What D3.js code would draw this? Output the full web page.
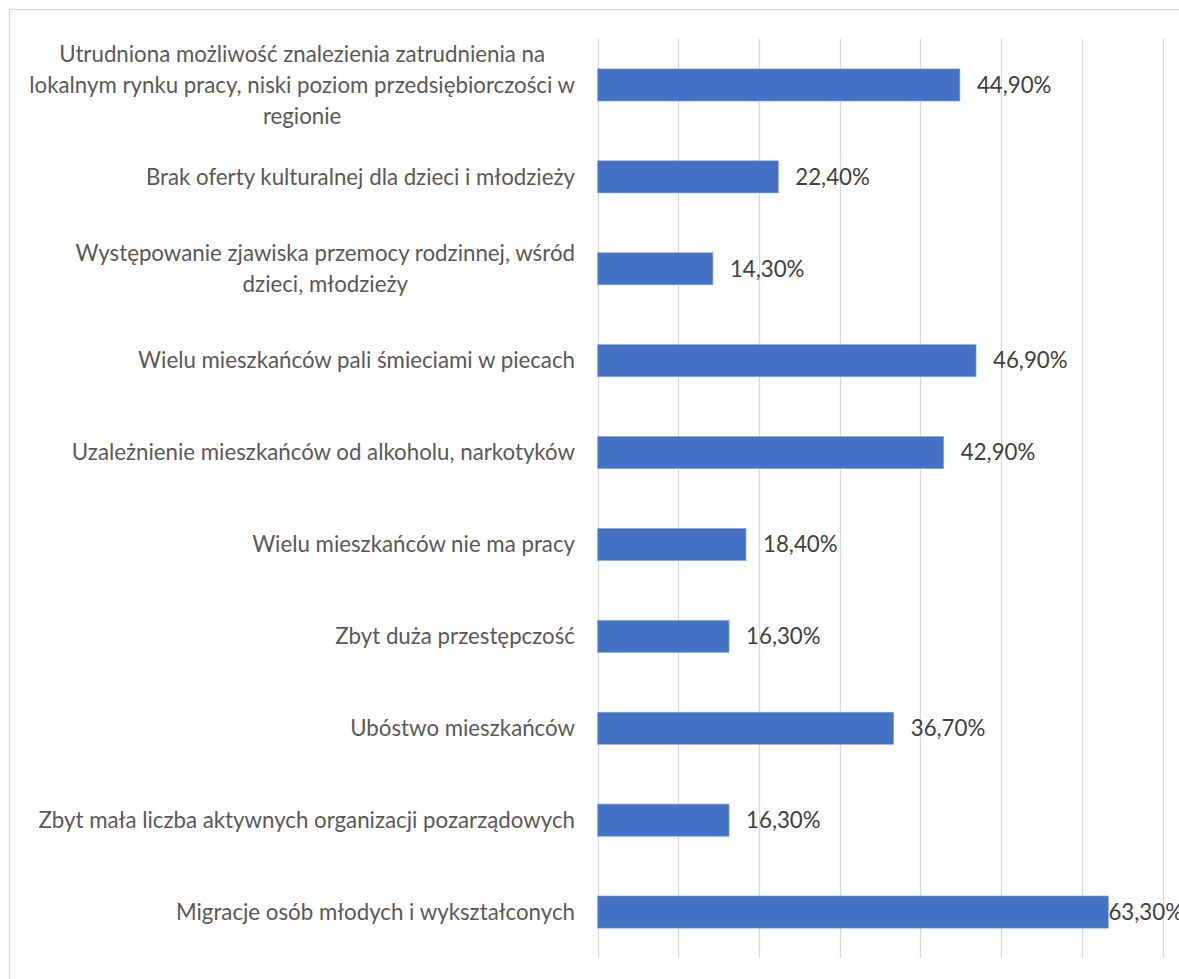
<!DOCTYPE html>
<html><head><meta charset="utf-8">
<script src="https://cdn.jsdelivr.net/npm/d3@7"></script>
<style>html,body{margin:0;padding:0;background:#fff;overflow:hidden}</style>
</head><body>
<svg id="c" width="1179" height="979"></svg>
<script>
const categories = [
  "Utrudniona możliwość znalezienia zatrudnienia na lokalnym rynku pracy, niski poziom przedsiębiorczości w regionie",
  "Brak oferty kulturalnej dla dzieci i młodzieży",
  "Występowanie zjawiska przemocy rodzinnej, wśród dzieci, młodzieży",
  "Wielu mieszkańców pali śmieciami w piecach",
  "Uzależnienie mieszkańców od alkoholu, narkotyków",
  "Wielu mieszkańców nie ma pracy",
  "Zbyt duża przestępczość",
  "Ubóstwo mieszkańców",
  "Zbyt mała liczba aktywnych organizacji pozarządowych",
  "Migracje osób młodych i wykształconych"
];
const values = [44.9, 22.4, 14.3, 46.9, 42.9, 18.4, 16.3, 36.7, 16.3, 63.3];
const xTicks = [0, 10, 20, 30, 40, 50, 60, 70];

const svg = d3.select("#c");
const fontFamily = "Lato, 'Open Sans', sans-serif";

// border of chart area (extends beyond viewport right and bottom)
svg.append("rect").attr("x", 9.5).attr("y", 9.5).attr("width", 1200).attr("height", 1000)
  .attr("fill", "#fff").attr("stroke", "#d9d9d9").attr("stroke-width", 1.3);

// calibrate font size so text widths match reference
const probe = svg.append("text").attr("font-family", fontFamily).attr("font-size", 100)
  .text("Wielu mieszkańców pali śmieciami w piecach");
const w100 = probe.node().getComputedTextLength();
probe.remove();
const fontSize = 100 * 437 / w100;

const x = d3.scaleLinear().domain([0, 70]).range([597.5, 1162.5]);
const y = d3.scaleBand().domain(categories).range([39, 958]).paddingInner(0.65).paddingOuter(0.325);

// gridlines
svg.append("g").selectAll("line").data(xTicks).join("line")
  .attr("x1", d => Math.round(x(d)) + 0.5).attr("x2", d => Math.round(x(d)) + 0.5)
  .attr("y1", 39).attr("y2", 958)
  .attr("stroke", "#d9d9d9").attr("stroke-width", 1.3);

// bars
svg.append("g").selectAll("rect").data(values).join("rect")
  .attr("x", x(0)).attr("y", (d, i) => y(categories[i]))
  .attr("width", d => x(d) - x(0)).attr("height", y.bandwidth())
  .attr("fill", "#4472c4").attr("stroke", "#8eaadc").attr("stroke-width", 0.6);

// category labels with wrapping
const labelRight = 575;
const wrapWidth = 555;
const lineH = 31;
const measurer = svg.append("text").attr("font-family", fontFamily).attr("font-size", fontSize);
function w(s) { measurer.text(s); return measurer.node().getComputedTextLength(); }
categories.forEach((cat, i) => {
  const words = cat.split(" ");
  const lines = [];
  let cur = "";
  words.forEach(wd => {
    const t = cur ? cur + " " + wd : wd;
    if (w(t) > wrapWidth && cur) { lines.push(cur); cur = wd; } else cur = t;
  });
  lines.push(cur);
  const maxW = d3.max(lines, l => w(l));
  const cx = labelRight - maxW / 2;
  const cy = y(cat) + y.bandwidth() / 2;
  const g = svg.append("text").attr("font-family", fontFamily).attr("font-size", fontSize)
    .attr("fill", "#595959").attr("text-anchor", "middle");
  lines.forEach((l, k) => {
    g.append("tspan").attr("x", cx)
      .attr("y", cy + (k - (lines.length - 1) / 2) * lineH)
      .attr("dy", "0.35em").text(l);
  });
});
measurer.remove();

// value labels
const chartRight = 1183;
svg.append("g").selectAll("text").data(values).join("text")
  .attr("font-family", fontFamily).attr("font-size", fontSize).attr("fill", "#404040")
  .attr("y", (d, i) => y(categories[i]) + y.bandwidth() / 2).attr("dy", "0.35em")
  .text(d => d3.format(".2f")(d).replace(".", ",") + "%")
  .each(function(d) {
    const tw = this.getComputedTextLength();
    d3.select(this).attr("x", Math.min(x(d) + 17, chartRight - tw));
  });
</script>
</body></html>
